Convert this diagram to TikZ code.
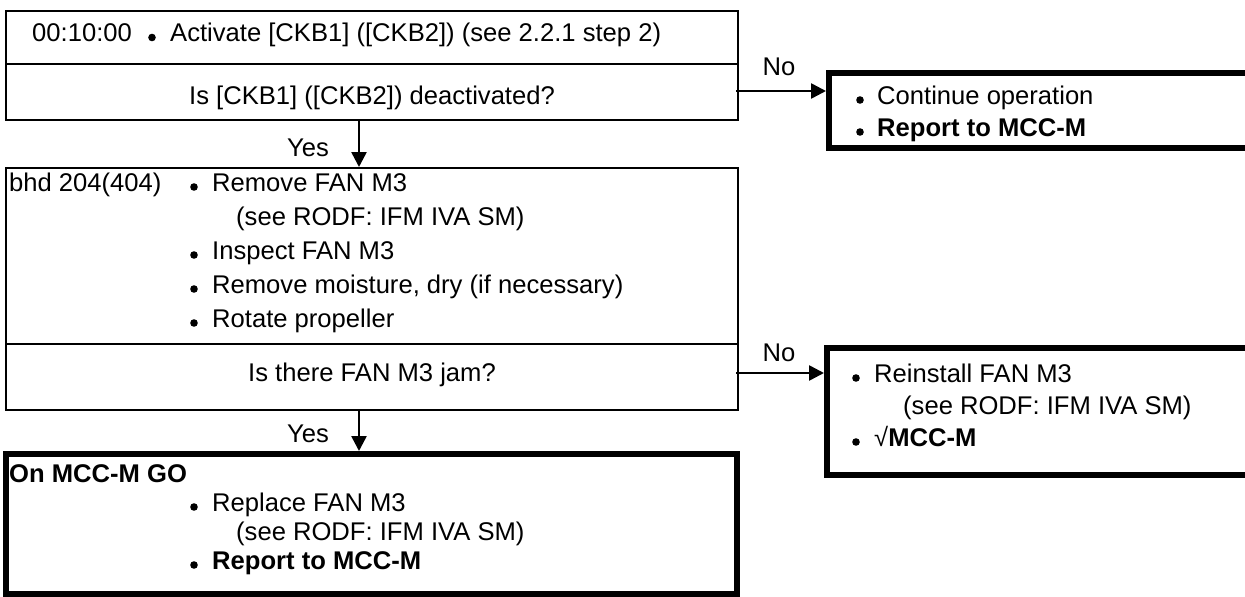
\documentclass[tikz,border=0pt]{standalone}
\usepackage{fontspec}
\setmainfont{Liberation Sans}
\usetikzlibrary{arrows.meta,fit,calc}
\begin{document}
\begin{tikzpicture}[x=1pt,y=-1pt,
  thinbox/.style={draw, line width=2.5pt, inner sep=0pt, outer sep=0pt},
  thickbox/.style={draw, line width=6pt, inner sep=0pt, outer sep=0pt},
  txt/.style={inner sep=0pt, anchor=base west, font=\fontsize{25.6}{30}\selectfont},
  ctxt/.style={txt, anchor=base},
  arr/.style={line width=2.6pt, -{Triangle[length=15pt,width=15pt]}},
  bul/.style={fill=black, circle, inner sep=0pt, minimum size=7.6pt}
]
\useasboundingbox (0,0) rectangle (1245,597);
\clip (0,0) rectangle (1245,597);

% ---------- boxes ----------
\node[thinbox, fit={(6,11)(738,64)}] (t1) {};
\node[thinbox, fit={(6,64)(738,120)}] (t2) {};
\node[thickbox, fit={(829,73)(1275,148)}] (r1) {};
\node[thinbox, fit={(6,168)(738,344)}] (b1) {};
\node[thinbox, fit={(6,344)(738,410)}] (b2) {};
\node[thickbox, fit={(827,348)(1275,475)}] (r2) {};
\node[thickbox, fit={(6,454)(737,594)}] (g) {};

% ---------- top box text ----------
\node[txt] (time) at (32,41.5) {00:10:00};
\node[bul] (bt1) at (152,37.5) {};
\node[txt] (act) at (170,41.5) {Activate [CKB1] ([CKB2]) (see 2.2.1 step 2)};
\node[ctxt] (q1) at (372,104) {Is [CKB1] ([CKB2]) deactivated?};

% ---------- right box 1 ----------
\node[bul] (br1a) at (860,100) {};
\node[txt] (cont) at (877,104) {Continue operation};
\node[bul] (br1b) at (860,132) {};
\node[txt] (rep1) at (877,136) {\bfseries Report to MCC-M};

% ---------- box 2 ----------
\node[txt] (bhd) at (9,191) {bhd 204(404)};
\node[bul] (bb1) at (194,187) {};
\node[txt] (rem) at (212,191) {Remove FAN M3};
\node[txt] (see1) at (236,225) {(see RODF: IFM IVA SM)};
\node[bul] (bb2) at (194,255) {};
\node[txt] (insp) at (212,259) {Inspect FAN M3};
\node[bul] (bb3) at (194,289) {};
\node[txt] (moist) at (212,293) {Remove moisture, dry (if necessary)};
\node[bul] (bb4) at (194,323) {};
\node[txt] (rot) at (212,327) {Rotate propeller};
\node[ctxt] (q2) at (372,381) {Is there FAN M3 jam?};

% ---------- right box 2 ----------
\node[bul] (br2a) at (856,378) {};
\node[txt] (reins) at (874,382) {Reinstall FAN M3};
\node[txt] (see2) at (903,414) {(see RODF: IFM IVA SM)};
\node[bul] (br2b) at (856,442) {};
\node[txt] (chk) at (874,446) {√\bfseries MCC-M};

% ---------- bottom box ----------
\node[txt] (go) at (9,482) {\bfseries On MCC-M GO};
\node[bul] (bg1) at (194,507) {};
\node[txt] (repl) at (212,511) {Replace FAN M3};
\node[txt] (see3) at (236,540) {(see RODF: IFM IVA SM)};
\node[bul] (bg2) at (194,565) {};
\node[txt] (rep2) at (212,569) {\bfseries Report to MCC-M};

% ---------- connectors ----------
\coordinate (y1s) at ($(t2.south)+(-13,0)$);
\coordinate (y2s) at ($(b2.south)+(-13,0)$);
\coordinate (n1s) at ($(t2.east)+(-2,-1)$);
\coordinate (n2s) at ($(b2.east)+(-2,-4)$);
\draw[arr, shorten >=3pt] (n1s) -- (n1s -| r1.west);
\draw[arr, shorten >=3pt] (n2s) -- (n2s -| r2.west);
\draw[arr, shorten >=1pt] (y1s) -- (y1s |- b1.north);
\draw[arr, shorten >=3pt] (y2s) -- (y2s |- g.north);

\node[ctxt] (no1) at (779,75) {No};
\node[ctxt] (no2) at (779,361) {No};
\node[ctxt] (yes1) at (308,156) {Yes};
\node[ctxt] (yes2) at (308,442) {Yes};
\end{tikzpicture}
\end{document}
